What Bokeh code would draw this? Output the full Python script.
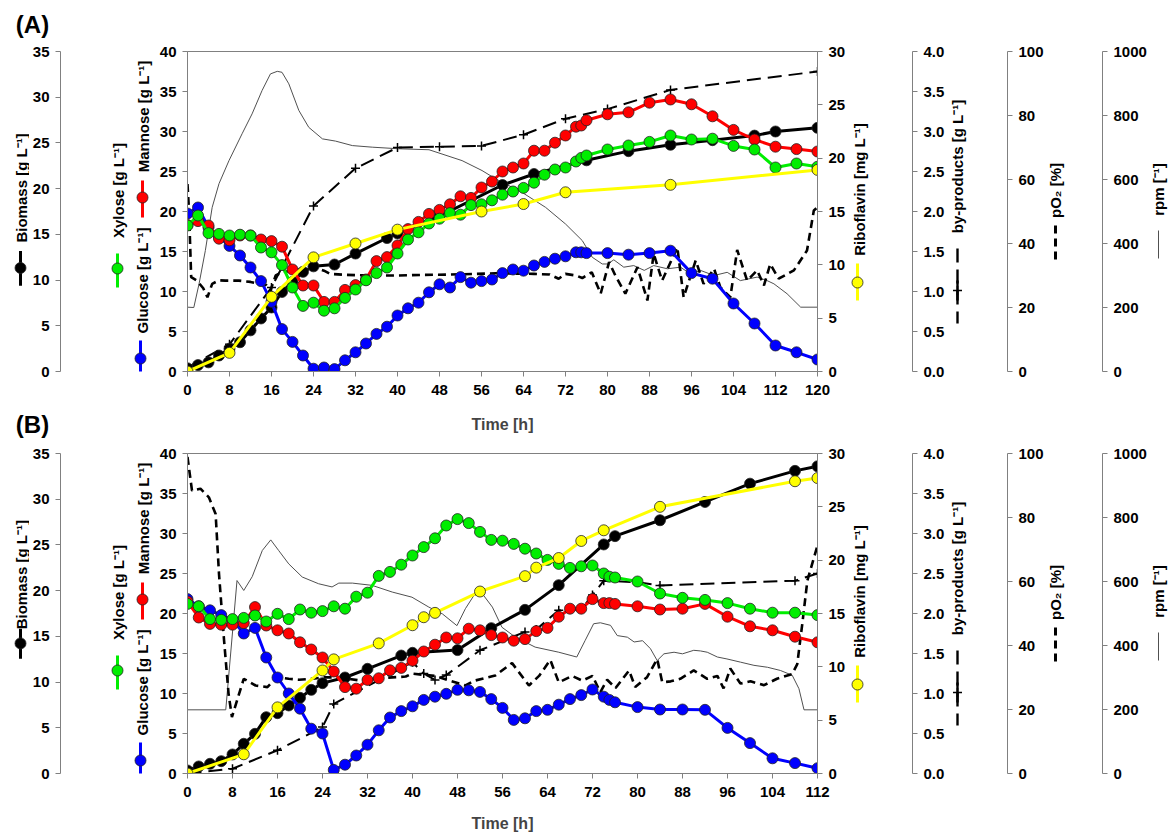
import math
from bokeh.plotting import figure
from bokeh.models import LinearAxis, Range1d, FixedTicker, NumeralTickFormatter
from bokeh.layouts import column, row
from bokeh.core.properties import value
from bokeh.embed import file_html
from bokeh.resources import INLINE

# ---------------- DATA : panel (A) ----------------
t_A = [0, 2, 4, 6, 8, 10, 12, 14, 16, 18, 20, 22, 24, 26, 28, 30, 32, 34, 36, 38,
       40, 42, 44, 46, 48, 50, 52, 54, 56, 58, 60, 62, 64, 66, 68, 70, 72, 74, 75, 76,
       80, 84, 88, 92, 96, 100, 104, 108, 112, 116, 120]
glucose_A = [19.75, 20.5, 18.0, 16.8, 15.7, 14.5, 13.0, 11.3, 8.7, 5.3,
             3.7, 2.0, 0.35, 0.5, 0.3, 1.4, 2.4, 3.5, 4.7, 5.6,
             7.0, 7.9, 8.6, 9.9, 10.9, 10.5, 11.8, 11.1, 11.3, 11.5,
             12.3, 12.75, 12.6, 13.25, 13.7, 14.1, 14.4, 14.9, 14.9, 14.8,
             14.8, 14.6, 14.8, 15.1, 12.3, 11.6, 8.5, 6.0, 3.25, 2.4, 1.5]
xylose_A = [18.25, 19.5, 17.3, 17.2, 17.0, 17.1, 17.0, 15.5, 14.9, 13.3,
            10.5, 8.2, 8.6, 7.6, 7.9, 9.2, 10.25, 11.4, 12.3, 13.0,
            14.75, 16.5, 17.4, 18.5, 19.1, 19.8, 19.6, 20.8, 20.9, 21.4,
            22.1, 22.5, 22.95, 23.6, 24.6, 25.25, 25.5, 26.25, 26.7, 27.0,
            27.75, 28.25, 28.7, 29.5, 29.0, 29.1, 28.2, 27.75, 25.5, 26.0, 25.6]
mannose_A = [18.3, 18.8, 18.25, 16.6, 16.4, 17.0, 17.0, 16.5, 16.3, 15.6,
             12.75, 10.75, 10.75, 8.7, 8.7, 10.2, 10.8, 11.5, 13.8, 14.3,
             15.75, 17.8, 18.7, 19.7, 20.2, 20.9, 21.9, 21.7, 23.0, 23.75,
             25.0, 25.5, 26.0, 27.6, 27.6, 28.6, 29.5, 30.6, 30.75, 31.4,
             32.15, 32.4, 33.6, 34.0, 33.4, 31.9, 30.2, 29.0, 28.1, 27.8, 27.5]
biomass_t_A = [0, 2, 4, 6, 8, 10, 12, 14, 16, 18, 20, 22, 24, 28, 32, 38, 40, 48,
               60, 66, 76, 84, 92, 100, 108, 112, 120]
biomass_A = [0.35, 0.7, 1.0, 1.75, 2.5, 3.2, 4.5, 5.8, 7.0, 8.7, 9.8, 10.9, 11.5,
             11.7, 12.9, 14.6, 15.1, 17.0, 20.4, 21.6, 23.1, 24.1, 24.8, 25.3,
             25.8, 26.25, 26.65]
riboflavin_t_A = [0, 8, 16, 24, 32, 40, 56, 64, 72, 92, 120]
riboflavin_A = [0.0, 1.75, 7.0, 10.7, 12.0, 13.3, 15.0, 15.7, 16.8, 17.5, 18.9]
byprod_t_A = [0, 8, 16, 24, 32, 40, 48, 56, 64, 72, 80, 92, 120]
byprod_A = [0.05, 0.34, 1.05, 2.07, 2.54, 2.8, 2.81, 2.82, 2.96, 3.16, 3.28, 3.52, 3.75]
po2_t_A = [0, 0.3, 0.7, 1.8, 3.0, 3.8, 4.7, 6, 7.2, 9.8,
           12, 13.6, 15, 15.8, 16.8, 18, 20, 22, 24, 26,
           27.2, 30, 35, 40, 45, 50, 55, 58.7, 62, 66,
           69, 70.7, 72, 74, 75.2, 77, 78.7, 80.3, 81.5, 83.4,
           85.7, 87.6, 88.8, 90.4, 93.3, 94.5, 96.8, 98.3, 100.3, 101.5,
           103.4, 104.7, 106.6, 108.5, 109.8, 111, 112.6, 115.5, 118, 119.3, 120]
po2_A = [58.6, 50, 29.5, 28.4, 26, 23.2, 27.4, 28.5, 28.4, 28.4,
         28, 27.4, 27, 25.3, 30, 31, 31.5, 32, 32.6, 31.5,
         30.5, 30.2, 30, 30, 30.2, 30.3, 30.5, 30.7, 30.6, 30.5,
         30.3, 29, 30.5, 30, 29.2, 31, 24.3, 34.2, 30, 24.3,
         32.6, 22.2, 36.8, 28.4, 38.8, 23.2, 34.7, 27.4, 32.1, 26.3,
         23.2, 38, 28.4, 31.6, 26.9, 33.6, 29, 31.6, 37.8, 50.3, 51.3]
rpm_t_A = [0, 1.2, 2.2, 3.4, 4.7, 6, 7.9, 10.4, 12.3, 14.2,
           15.8, 17.1, 18, 19.3, 21.2, 23.1, 25.7, 28.2, 31.4, 35.2,
           40.2, 46, 52.3, 56.1, 58.7, 63.7, 68.2, 72, 75.2, 77.1,
           79, 80, 81.2, 83.1, 85, 87, 88.8, 91.4, 93.9, 95.8,
           97.7, 100.3, 102.8, 105.3, 108.5, 110.4, 111.7, 114.2, 116.8, 120]
rpm_A = [201, 200, 274, 378, 513, 587, 659, 743, 805, 878,
         930, 938, 935, 899, 816, 763, 727, 720, 706, 701,
         696, 693, 659, 628, 602, 560, 513, 461, 409, 357,
         336, 336, 349, 326, 331, 316, 331, 321, 326, 305,
         316, 300, 310, 284, 295, 284, 274, 243, 201, 201]

# ---------------- DATA : panel (B) ----------------
t_B = [0, 2, 4, 6, 8, 10, 12, 14, 16, 18, 20, 22, 24, 26, 28, 30, 32, 34, 36, 38,
       40, 42, 44, 46, 48, 50, 52, 54, 56, 58, 60, 62, 64, 66, 68, 70, 72, 74, 75, 76,
       80, 84, 88, 92, 96, 100, 104, 108, 112]
glucose_B = [21.8, 20.9, 20.4, 19.8, 19.2, 17.5, 18.2, 14.5, 12.0, 10.0,
             8.1, 5.6, 5.0, 0.45, 1.1, 2.25, 3.6, 5.4, 7.0, 7.8,
             8.4, 9.2, 9.6, 9.96, 10.46, 10.4, 10.2, 9.3, 8.2, 6.7,
             6.9, 7.8, 7.96, 8.6, 9.3, 9.8, 10.5, 9.6, 9.2, 8.9,
             8.3, 8.0, 8.0, 7.96, 5.7, 3.8, 1.9, 1.3, 0.66]
xylose_B = [21.2, 20.9, 19.3, 19.2, 19.3, 19.45, 19.75, 19.0, 19.96, 19.3,
            20.5, 20.1, 20.3, 20.9, 20.6, 22.1, 22.6, 24.7, 25.2, 26.1,
            27.25, 28.3, 29.4, 31.0, 31.8, 31.3, 30.2, 29.2, 29.1, 28.7,
            28.1, 27.5, 26.7, 26.2, 25.7, 25.9, 26.0, 25.0, 24.6, 24.5,
            24.0, 22.5, 21.96, 21.7, 21.3, 20.6, 20.1, 20.1, 19.8]
mannose_B = [21.5, 19.5, 18.7, 18.6, 18.6, 18.8, 20.8, 18.5, 17.9, 17.5,
             16.4, 15.5, 14.5, 12.75, 10.8, 10.6, 11.7, 11.9, 12.9, 13.2,
             14.1, 15.25, 16.1, 17.0, 16.9, 18.1, 17.9, 17.3, 17.0, 16.6,
             16.8, 17.8, 18.2, 19.6, 20.6, 20.6, 21.8, 21.3, 21.3, 21.2,
             20.9, 20.5, 20.6, 21.2, 19.6, 18.4, 17.9, 17.1, 16.4]
biomass_t_B = [0, 2, 4, 6, 8, 10, 12, 14, 16, 18, 20, 22, 24, 28, 32, 38, 40, 48,
               54, 60, 66, 74, 76, 84, 92, 100, 108, 112]
biomass_B = [0.33, 0.77, 1.06, 1.35, 2.08, 3.25, 4.34, 6.16, 6.6, 7.44, 8.28, 9.15,
             9.88, 10.5, 11.45, 12.9, 13.2, 13.5, 15.9, 17.9, 20.6, 25.05, 25.96,
             27.7, 29.7, 31.7, 33.1, 33.6]
riboflavin_t_B = [0, 10, 16, 24, 26, 34, 40, 42, 44, 52, 60, 62, 66, 70, 74, 84, 108, 112]
riboflavin_B = [0.0, 1.8, 6.2, 9.66, 10.7, 12.2, 13.9, 14.65, 15.06, 17.06, 18.5, 19.3,
                20.2, 21.8, 22.8, 25.0, 27.4, 27.7]
byprod_t_B = [0, 8, 16, 24, 26, 40, 42, 44, 46, 52, 60, 62, 66, 70, 72, 74, 80, 84, 108, 112]
byprod_B = [0.0, 0.06, 0.29, 0.58, 0.87, 1.39, 1.25, 1.17, 1.23, 1.54, 1.77, 1.8,
            2.04, 2.05, 2.23, 2.41, 2.39, 2.35, 2.41, 2.5]
po2_t_B = [0, 0.8, 2.3, 3.8, 5, 5.6, 6.5, 7.3, 7.9, 8.8,
           10, 12.1, 14.2, 15.9, 18, 19.8, 22.2, 24.5, 27.5, 30.5,
           32.8, 35.2, 38.8, 39.9, 44, 49.4, 51, 54.7, 57.7, 60.7,
           62.5, 64.5, 66, 68.4, 70.2, 72, 73.4, 74.6, 76.1, 78.5,
           79.6, 81.7, 83.5, 84.4, 85.9, 87.6, 90, 92.4, 94.2, 95.3,
           96.5, 98.3, 100.1, 102.5, 104.8, 107.5, 108.4, 109.3, 110.2, 111.4, 112]
po2_B = [98.9, 88.4, 89, 86.3, 81.1, 62.4, 41.6, 24.9, 17.6, 22.8,
         29.6, 27.5, 27, 30.1, 29.6, 29.3, 29.6, 30.1, 29.9, 29.1,
         29.9, 29.9, 30.3, 31.2, 30.5, 27.5, 29, 30.6, 34.5, 27.5,
         30.5, 35.5, 28.5, 30.5, 29, 30.5, 25.4, 29.3, 26.7, 32.2,
         27.0, 30.1, 35.8, 28.5, 28.8, 29.6, 32.2, 29.6, 30.5, 26.6,
         32.8, 28.1, 28.8, 27.6, 29.6, 31.1, 34.2, 46.8, 60.3, 67.6, 71.25]
rpm_t_B = [0, 6.8, 8.8, 10, 11.5, 13.3, 14.8, 16.2, 18, 20.4,
           23.3, 25.7, 26.9, 29.3, 32.8, 36.4, 39.9, 42.9, 45.3, 47.9,
           49.4, 50.9, 52.4, 54.2, 55.9, 58.3, 61.8, 66, 69.2, 70.7,
           72.2, 73.4, 75.2, 76.4, 78.2, 79.4, 80.9, 82.3, 83.5, 84.7,
           86.5, 88, 90, 91.2, 92.4, 94.2, 95.9, 98.3, 100.7, 103.1,
           105.4, 107.5, 108.7, 109.6, 112]
rpm_B = [199, 199, 603, 572, 615, 697, 730, 697, 655, 614,
         593, 583, 595, 595, 588, 567, 551, 520, 499, 462,
         515, 556, 562, 520, 457, 426, 395, 379, 364, 416,
         468, 471, 463, 431, 426, 411, 415, 390, 353, 374,
         379, 374, 385, 383, 379, 364, 358, 348, 338, 332,
         322, 307, 265, 199, 199]

# tick labels
sugar_ticks = [0, 5, 10, 15, 20, 25, 30, 35, 40]
biomass_ticks = [0, 5, 10, 15, 20, 25, 30, 35]
ribo_ticks = [0, 5, 10, 15, 20, 25, 30]
byprod_ticks = [0.0, 0.5, 1.0, 1.5, 2.0, 2.5, 3.0, 3.5, 4.0]
po2_ticks = [0, 20, 40, 60, 80, 100]
rpm_ticks = [0, 200, 400, 600, 800, 1000]

# axis titles
T_BIO = "Biomass [g L⁻¹]"
T_XYL = "Xylose [g L⁻¹]"
T_MAN = "Mannose [g L⁻¹]"
T_GLC = "Glucose [g L⁻¹]"
T_RIB = "Riboflavin [mg L⁻¹]"
T_BYP = "by-products [g L⁻¹]"
T_PO2 = "pO₂ [%]"
T_RPM = "rpm [⁻¹]"

# ---------------- STYLE / LAYOUT ----------------
FONT = "Liberation Sans"
GRAY = "#808080"
RPM_C = "#505050"
C_GLC, C_XYL, C_MAN, C_BIO, C_RIB = "#0000FF", "#00EE00", "#FF0000", "#000000", "#FFFF00"
FW, FH = 630, 320
# widths of the row of figures (sum = 1168)
W_LL, W_L, W_M, W_R1, W_R2, W_R3, W_R4 = 29, 126, 695, 98, 99, 102, 19
BL_L, BL_M, BR_M, BR_1, BR_2, BR_3 = 31, 32, 33, 36, 40, 47
X_LL = 0
X_L = X_LL + W_LL
X_M = X_L + W_L
X_R1 = X_M + W_M
X_R2 = X_R1 + W_R1
X_R3 = X_R2 + W_R2
X_R4 = X_R3 + W_R3
TITLE_SIZE = "15px"


def style_axis(ax, ticks, fmt=None, standoff=6):
    ax.ticker = FixedTicker(ticks=ticks)
    ax.axis_line_color = GRAY
    ax.axis_line_width = 1
    ax.major_tick_line_color = GRAY
    ax.minor_tick_line_color = None
    ax.major_tick_out = 5
    ax.major_tick_in = 0
    ax.major_label_standoff = standoff
    ax.major_label_text_font = FONT
    ax.major_label_text_font_style = "bold"
    ax.major_label_text_font_size = "15px"
    ax.major_label_text_color = "black"
    if fmt is not None:
        ax.formatter = fmt


def deco(px0, w, py0, h, bl=0, br=0, bt=0, bb=0):
    """figure whose data coordinates are page pixels (y downwards)"""
    fx0, fx1 = px0 + bl, px0 + w - br
    fy0, fy1 = py0 + bt, py0 + h - bb
    p = figure(width=w, height=h, x_range=Range1d(fx0, fx1), y_range=Range1d(fy1, fy0),
               x_axis_location=None, y_axis_location=None,
               output_backend="svg", toolbar_location=None, min_border=0,
               min_border_left=bl, min_border_right=br, min_border_top=bt,
               min_border_bottom=bb)
    p.outline_line_color = None
    p.xgrid.visible = False
    p.ygrid.visible = False
    p.background_fill_color = "white"
    p.border_fill_color = "white"
    return p


def vtext(p, x, y, s, size=TITLE_SIZE, angle=math.pi / 2):
    p.text(x=[x], y=[y], text=[s], angle=angle, text_font=value(FONT),
           text_font_style="bold", text_font_size=size, text_color="black",
           text_align="center", text_baseline="middle")


def marker_key(p, x, y0, y1, yc, col):
    p.segment(x0=[x], y0=[y0], x1=[x], y1=[y1], line_color=col, line_width=3)
    p.scatter(x=[x], y=[yc], marker="circle", size=11, fill_color=col,
              line_color="#222222", line_width=0.8)


def add_right_axis(p, name, rng, ticks, fmt=None):
    p.extra_y_ranges = {name: rng}
    ax = LinearAxis(y_range_name=name)
    style_axis(ax, ticks, fmt)
    p.add_layout(ax, "right")


def panel(xmax, py0, H, top, dy, tt, glc, xyl, man, tb, bio, tr, rib,
          tbp, byp, tp, po2, trpm, rpm, time_standoff, letter_fig=None):
    bot = H - top - FH

    # ---- main plotting figure ----
    m = figure(width=W_M, height=H, x_range=Range1d(0, xmax), y_range=Range1d(0, 40),
               output_backend="svg", toolbar_location=None, min_border=0,
               min_border_left=BL_M, min_border_right=BR_M,
               min_border_top=top, min_border_bottom=bot)
    m.extra_y_ranges = {"bio": Range1d(0, 35), "ribo": Range1d(0, 30), "byp": Range1d(0, 4),
                        "po2": Range1d(0, 100), "rpm": Range1d(0, 1000)}
    m.xgrid.visible = False
    m.ygrid.visible = False
    m.outline_line_color = GRAY
    m.background_fill_color = "white"
    m.border_fill_color = "white"
    style_axis(m.xaxis[0], list(range(0, xmax + 1, 8)), standoff=8)
    m.xaxis[0].axis_label = "Time [h]"
    m.xaxis[0].axis_label_text_font = FONT
    m.xaxis[0].axis_label_text_font_style = "bold"
    m.xaxis[0].axis_label_text_font_size = "16px"
    m.xaxis[0].axis_label_standoff = time_standoff
    style_axis(m.yaxis[0], sugar_ticks)
    ax_rib = LinearAxis(y_range_name="ribo")
    style_axis(ax_rib, ribo_ticks)
    m.add_layout(ax_rib, "right")

    m.line(trpm, rpm, y_range_name="rpm", line_color=RPM_C, line_width=1)
    m.line(tp, po2, y_range_name="po2", line_color="black", line_width=2.6, line_dash="8 5")
    m.line(tbp, byp, y_range_name="byp", line_color="black", line_width=2, line_dash="14 7")
    m.scatter(tbp, byp, y_range_name="byp", marker="cross", size=9,
              line_color="black", line_width=1.5)

    def series(tx, vy, col, rname=None):
        kw = {} if rname is None else {"y_range_name": rname}
        m.line(tx, vy, line_color=col, line_width=3, **kw)
        m.scatter(tx, vy, marker="circle", size=11, fill_color=col,
                  line_color="#222222", line_width=0.8, **kw)

    series(tb, bio, C_BIO, "bio")
    series(tt, glc, C_GLC)
    series(tt, man, C_MAN)
    series(tt, xyl, C_XYL)
    series(tr, rib, C_RIB, "ribo")

    # ---- left side: biomass axis + sugar titles ----
    if letter_fig is None:
        ll = deco(X_LL, W_LL, py0, H)
        lf = deco(X_L, W_L, py0, H, bl=BL_L, bt=top, bb=bot)
    else:
        ll = deco(X_LL, W_LL, py0 + top - 10, FH + 20)
        lf = deco(X_L, W_L, py0 + top - 10, FH + 20, bl=BL_L, bt=10, bb=10)
    lf.extra_y_ranges = {"bio": Range1d(0, 35)}
    ax_bio = LinearAxis(y_range_name="bio")
    style_axis(ax_bio, biomass_ticks)
    lf.add_layout(ax_bio, "left")

    vtext(ll, 21, 186 + dy, T_BIO)
    marker_key(ll, 20, 253 + dy, 290 + dy, 271 + dy, C_BIO)
    vtext(lf, 118, 190 + dy, T_XYL)
    marker_key(lf, 117, 253 + dy, 287 + dy, 268 + dy, C_XYL)
    vtext(lf, 143, 116 + dy, T_MAN)
    marker_key(lf, 142, 180 + dy, 217 + dy, 197 + dy, C_MAN)
    vtext(lf, 142, 280 + dy, T_GLC)
    marker_key(lf, 140, 340 + dy, 377 + dy, 358 + dy, C_GLC)

    # ---- right side: extra axes + titles ----
    r1 = deco(X_R1, W_R1, py0, H, br=BR_1, bt=top, bb=bot)
    add_right_axis(r1, "byp", Range1d(0, 4), byprod_ticks, NumeralTickFormatter(format="0.0"))
    vtext(r1, 859, 189 + dy, T_RIB)
    marker_key(r1, 857, 263 + dy, 300 + dy, 282 + dy, C_RIB)

    r2 = deco(X_R2, W_R2, py0, H, br=BR_2, bt=top, bb=bot)
    add_right_axis(r2, "po2", Range1d(0, 100), po2_ticks)
    vtext(r2, 957, 166 + dy, T_BYP)
    r2.segment(x0=[957], y0=[248 + dy], x1=[957], y1=[323 + dy], line_color="black",
               line_width=2.4, line_dash="14 7")
    r2.segment(x0=[957], y0=[280 + dy], x1=[957], y1=[300 + dy], line_color="black",
               line_width=2.4)
    r2.scatter(x=[957], y=[290 + dy], marker="cross", size=9, line_color="black",
               line_width=1.6)

    r3 = deco(X_R3, W_R3, py0, H, br=BR_3, bt=top, bb=bot)
    add_right_axis(r3, "rpm", Range1d(0, 1000), rpm_ticks)
    vtext(r3, 1055, 190 + dy, T_PO2)
    r3.segment(x0=[1055], y0=[225 + dy], x1=[1055], y1=[262 + dy], line_color="black",
               line_width=3, line_dash="8 5")

    r4 = deco(X_R4, W_R4, py0, H, bt=top, bb=bot)
    vtext(r4, 1158, 189 + dy, T_RPM)
    r4.segment(x0=[1158], y0=[230 + dy], x1=[1158], y1=[258 + dy], line_color=RPM_C,
               line_width=1)

    if letter_fig is None:
        left = row(ll, lf)
    else:
        head, foot = letter_fig
        left = column(head, row(ll, lf), foot)
    return row(left, m, r1, r2, r3, r4)


# header / footer for the left column of panel A (panel letters)
HA, TOPA = 438, 51
head_A = deco(0, W_LL + W_L, 0, TOPA - 10)
vtext(head_A, 32, 24, "(A)", size="24px", angle=0)
foot_A = deco(0, W_LL + W_L, TOPA + FH + 10, HA - (TOPA + FH + 10))
vtext(foot_A, 32, 424, "(B)", size="24px", angle=0)

rowA = panel(120, 0, HA, TOPA, 0, t_A, glucose_A, xylose_A, mannose_A,
             biomass_t_A, biomass_A, riboflavin_t_A, riboflavin_A,
             byprod_t_A, byprod_A, po2_t_A, po2_A, rpm_t_A, rpm_A,
             time_standoff=18, letter_fig=(head_A, foot_A))
rowB = panel(112, HA, 834 - HA, 15, 402, t_B, glucose_B, xylose_B, mannose_B,
             biomass_t_B, biomass_B, riboflavin_t_B, riboflavin_B,
             byprod_t_B, byprod_B, po2_t_B, po2_B, rpm_t_B, rpm_B,
             time_standoff=15)

layout = column(rowA, rowB)
open("out.html", "w").write(file_html(layout, INLINE))
